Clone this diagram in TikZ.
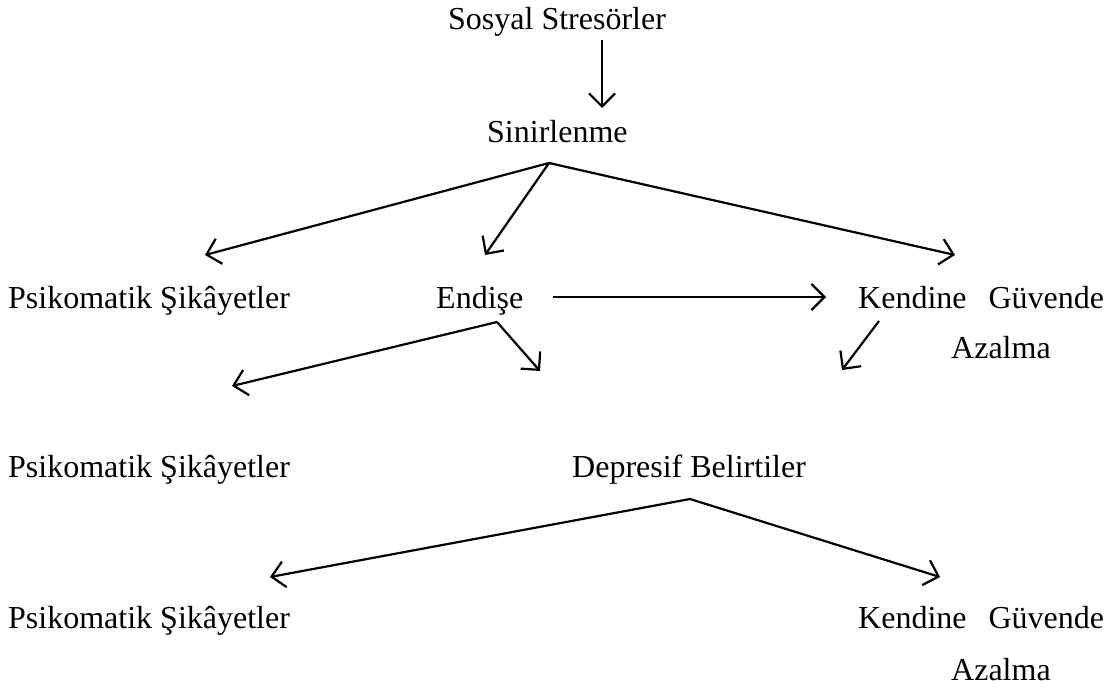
\documentclass[tikz,border=0pt]{standalone}
\usepackage{fontspec}
\setmainfont{Liberation Serif}
\usetikzlibrary{arrows.meta}
\tikzset{
  lbl/.style={anchor=base west, inner sep=0pt, font=\fontsize{32}{38}\selectfont},
  arr/.style={line width=2.2pt, -{Straight Barb[length=13pt, width=26pt, line width=2.2pt]}}
}
\begin{document}
\begin{tikzpicture}[x=1pt, y=-1pt]
		%%%%% START %%%%%
		\useasboundingbox (0, 0) rectangle (1119, 697);
		
		\node[lbl] (stres) at (448, 29) {Sosyal Stres\"orler};
		\node[lbl] (sinir) at (487, 142) {Sinirlenme};
		
		\node[lbl] (psik1) at (8, 308) {Psikomatik \c{S}ik\^ayetler};
		\node[lbl] (endise) at (436, 308) {Endi\c{s}e};
		\node[lbl] (guven1) at (858, 308) {Kendine\hspace{22pt}G\"uvende};
		\node[lbl] (azal1) at (951, 358) {Azalma};
		
		\node[lbl] (psik2) at (8, 477) {Psikomatik \c{S}ik\^ayetler};
		\node[lbl] (depr) at (572, 477) {Depresif Belirtiler};
		
		\node[lbl] (psik3) at (8, 628) {Psikomatik \c{S}ik\^ayetler};
		\node[lbl] (guven2) at (858, 628) {Kendine\hspace{22pt}G\"uvende};
		\node[lbl] (azal2) at (951, 680) {Azalma};
		
		% free ends of the arrows
		\coordinate (stresA) at (602, 40);
		\coordinate (sinirB) at (602, 108);
		\coordinate (sinirA) at (549, 163);
		\coordinate (psik1B) at (205, 255);
		\coordinate (endiseB) at (485, 255);
		\coordinate (guven1B) at (955, 255);
		\coordinate (endiseR) at (553, 297);
		\coordinate (guven1L) at (826, 297);
		\coordinate (endiseA) at (497, 322);
		\coordinate (psik2B) at (232, 386);
		\coordinate (deprB1) at (540, 371);
		\coordinate (guven1A) at (879, 321);
		\coordinate (deprB2) at (842, 370);
		\coordinate (deprA) at (690, 499);
		\coordinate (psik3B) at (270, 577);
		\coordinate (guven2B) at (940, 577);
		
		\draw[arr] (stresA) -- (sinirB);
		\draw[arr] (sinirA) -- (psik1B);
		\draw[arr] (sinirA) -- (endiseB);
		\draw[arr] (sinirA) -- (guven1B);
		\draw[arr] (endiseR) -- (guven1L);
		\draw[arr] (endiseA) -- (psik2B);
		\draw[arr] (endiseA) -- (deprB1);
		\draw[arr] (guven1A) -- (deprB2);
		\draw[arr] (deprA) -- (psik3B);
		\draw[arr] (deprA) -- (guven2B);
		%%%%% END %%%%%
	\end{tikzpicture}
\end{document}
